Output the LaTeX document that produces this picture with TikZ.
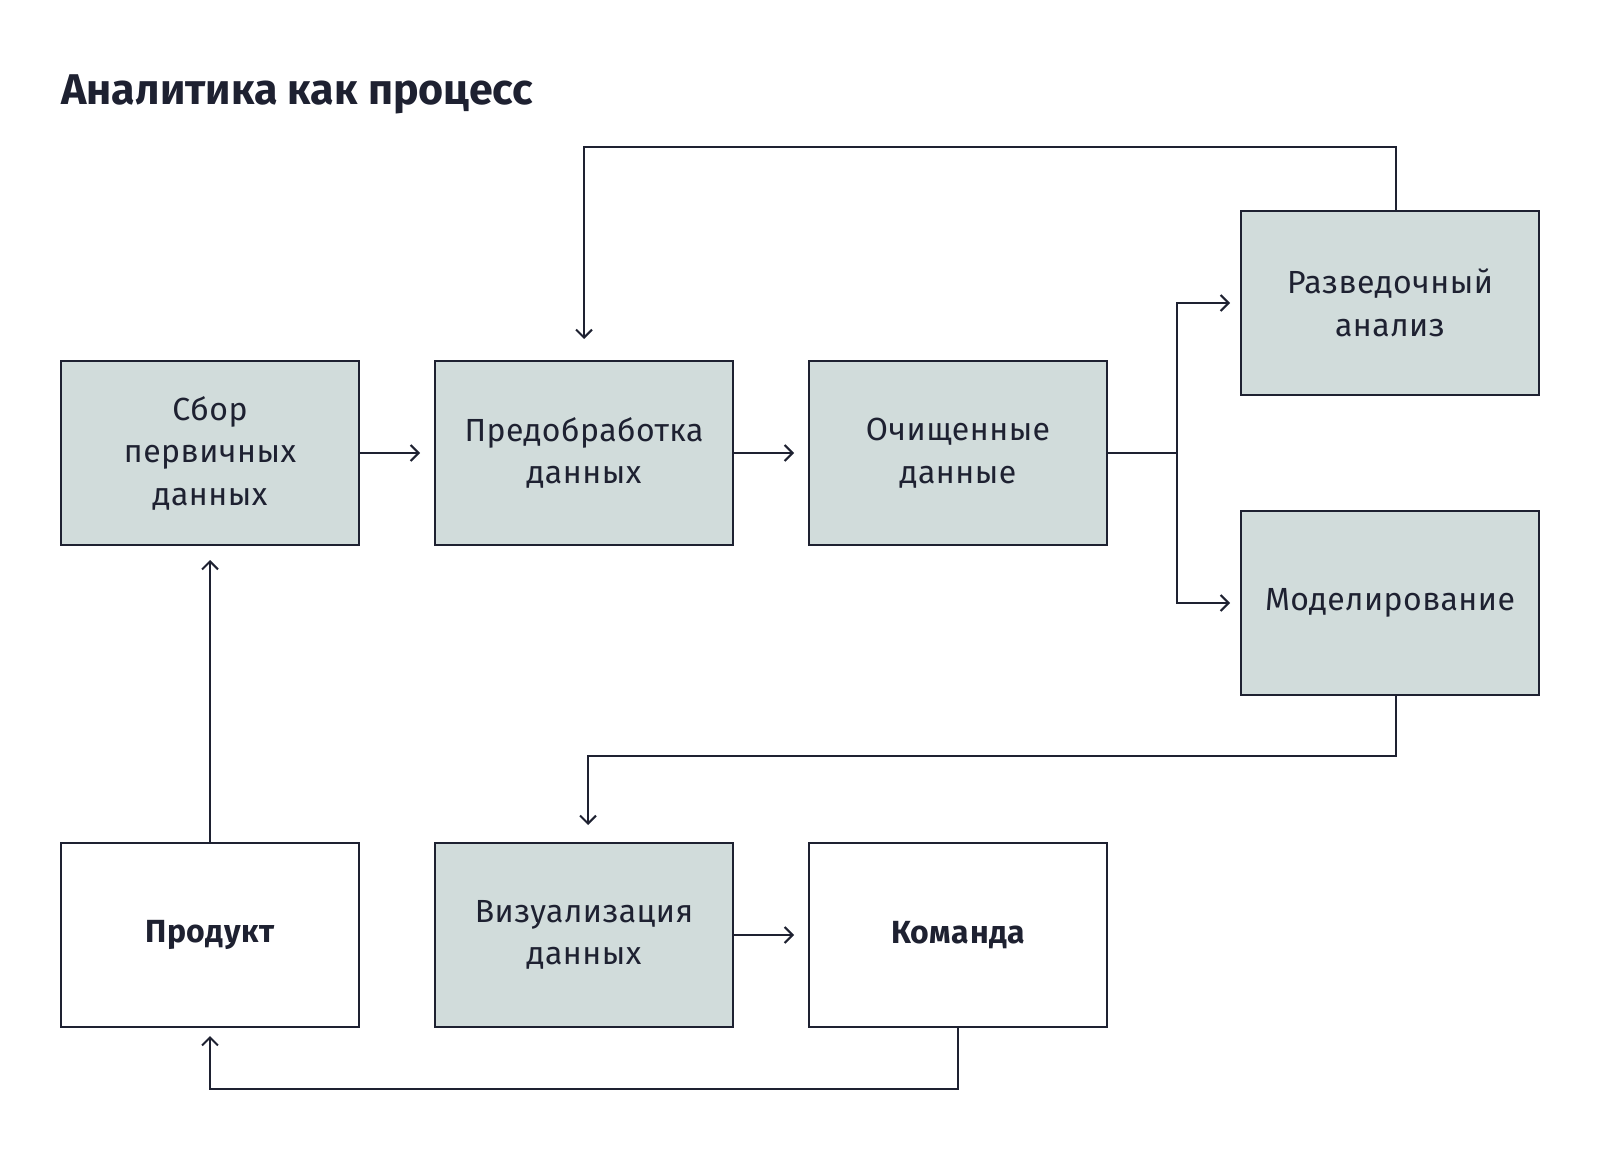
\documentclass[tikz,border=0pt]{standalone}
\usepackage{fontspec}
\setmainfont{Fira Sans}
\newfontfamily\boxfont[LetterSpace=1.5]{Fira Sans}
\usetikzlibrary{arrows.meta}
\definecolor{boxfill}{HTML}{D1DCDB}
\definecolor{inkline}{HTML}{1E2131}
\tikzset{
    stage/.style={draw=inkline, fill=boxfill, line width=1pt, minimum width=149pt,
        minimum height=92pt, inner sep=0pt, align=center, text=inkline,
        font=\boxfont\fontsize{16}{21.2}\selectfont},
    outer/.style={stage, fill=white, font=\boxfont\bfseries\fontsize{16}{21.2}\selectfont},
    link/.style={draw=inkline, line width=1pt}
}
\begin{document}
\begin{tikzpicture}[x=0.5pt, y=-0.5pt, >={Straight Barb[length=4pt,width=8pt]}]
    \useasboundingbox (0,0) rectangle (1600,1149);

    \node[anchor=base west, inner sep=0pt, text=inkline,
        font=\bfseries\fontsize{21.5}{26}\selectfont] (title) at (61,105) {Аналитика как процесс};

    % main row
    \node[stage] (collect) at (210,453) {Сбор\\первичных\\данных};
    \node[stage] (prep) at (584,453) {Предобработка\\данных};
    \node[stage] (clean) at (958,453) {Очищенные\\данные};

    % right column
    \node[stage] (explore) at (1390,303) {Разведочный\\анализ};
    \node[stage] (model) at (1390,603) {Моделирование};

    % bottom row
    \node[outer] (product) at (210,935) {Продукт};
    \node[stage] (visual) at (584,935) {Визуализация\\данных};
    \node[outer] (team) at (958,935) {Команда};

    \coordinate (fork) at (1177,453);

    \draw[link, ->] (collect.east) -- ([xshift=-7pt]prep.west);
    \draw[link, ->] (prep.east) -- ([xshift=-7pt]clean.west);
    \draw[link] (clean.east) -- (fork);
    \draw[link, ->] (fork) |- ([xshift=-5pt]explore.west);
    \draw[link, ->] (fork) |- ([xshift=-5pt]model.west);

    \draw[link, ->] ([xshift=3pt]explore.north) -- ++(0,-63) -| ([yshift=10.5pt]prep.north);
    \draw[link, ->] ([xshift=3pt]model.south) -- ++(0,60) -| ([xshift=2pt,yshift=8.5pt]visual.north);

    \draw[link, ->] (visual.east) -- ([xshift=-7pt]team.west);
    \draw[link, ->] (team.south) -- ++(0,61) -| ([yshift=-4pt]product.south);
    \draw[link, ->] (product.north) -- ([yshift=-7pt]collect.south);
\end{tikzpicture}
\end{document}
